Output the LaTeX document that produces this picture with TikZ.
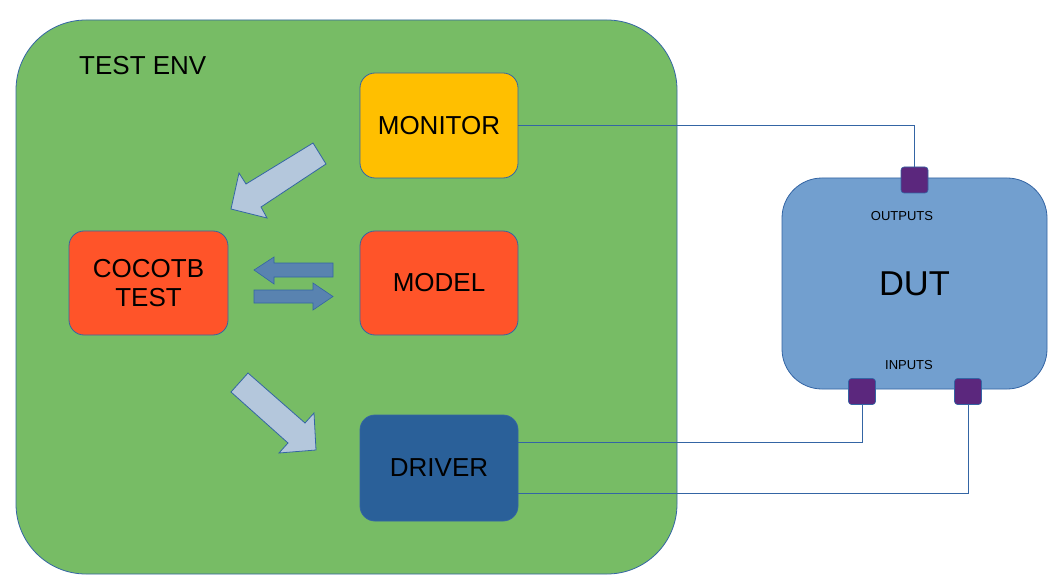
\documentclass[tikz,border=0pt]{standalone}
\usepackage{fontspec}
\setmainfont{Liberation Sans}
\begin{document}
\begin{tikzpicture}[x=1pt,y=-1pt,
  edge/.style={draw=linec, line width=0.9pt},
  blk/.style={draw=linec, line width=0.8pt, rounded corners=15pt, minimum width=158pt, minimum height=105pt, inner sep=0pt, align=center, font=\fontsize{26}{29}\selectfont},
  pin/.style={draw=linec, line width=0.6pt, fill=pinc, rounded corners=3pt, minimum width=27pt, minimum height=26pt, inner sep=0pt},
  bigarrow/.style={draw=linec, line width=0.8pt, fill=arrlight},
  smallarrow/.style={draw=linec, line width=0.6pt, fill=arrdark},
  lbl/.style={inner sep=0pt, font=\fontsize{13}{15}\selectfont}
]
\definecolor{envg}{HTML}{77BC65}
\definecolor{linec}{HTML}{3465A4}
\definecolor{yel}{HTML}{FFBF00}
\definecolor{redo}{HTML}{FF5429}
\definecolor{drv}{HTML}{2A6099}
\definecolor{dutc}{HTML}{729FCF}
\definecolor{pinc}{HTML}{5B277D}
\definecolor{arrlight}{HTML}{B4C7DC}
\definecolor{arrdark}{HTML}{5983B0}
\useasboundingbox (0,0) rectangle (1059,585);
\fill[white] (0,0) rectangle (1059,585);

% test environment
\node[draw=linec, line width=0.8pt, fill=envg, rounded corners=70pt, minimum width=661pt, minimum height=554pt, inner sep=0pt] (env) at (346.5,297) {};
\node[anchor=base west, inner sep=0pt, font=\fontsize{26}{29}\selectfont] (envlbl) at (79,74.5) {TEST ENV};

% blocks
\node[blk, fill=yel] (monitor) at (439,125.5) {MONITOR};
\node[blk, fill=redo, minimum width=159pt, minimum height=104pt] (cocotb) at (148.5,283) {COCOTB\\TEST};
\node[blk, fill=redo, minimum height=104pt] (model) at (439,283) {MODEL};
\node[blk, fill=drv, minimum height=106pt] (driver) at (439,468) {DRIVER};

% DUT
\node[draw=linec, line width=0.8pt, fill=dutc, rounded corners=40pt, minimum width=265pt, minimum height=211pt, inner sep=0pt, font=\fontsize{34.5}{40}\selectfont] (dut) at (914.5,283.5) {DUT};
\node[lbl] (outl) at (902,216.5) {OUTPUTS};
\node[lbl] (inl) at (909,365.5) {INPUTS};

% pins
\node[pin] (pout) at (914.5,180) {};
\node[pin] (pin1) at (862,391.5) {};
\node[pin] (pin2) at (968,391.5) {};

% connectors
\draw[edge] (monitor.east) -| (pout.north);
\draw[edge] ([yshift=26pt]driver.east) -| (pin1.south);
\draw[edge] ([yshift=-25pt]driver.east) -| (pin2.south);

% block arrows
\draw[bigarrow] (313,143) -- (326,164) -- (261,207) -- (267,218) -- (231,209) -- (239,173) -- (246,184) -- cycle;
\draw[bigarrow] (248,373) -- (305,423) -- (314,413) -- (316,450) -- (279,453) -- (288,443) -- (231,392) -- cycle;
\draw[smallarrow] (254,270) -- (274,257) -- (274,263) -- (333,263) -- (333,277) -- (274,277) -- (274,284) -- cycle;
\draw[smallarrow] (254,290) -- (313,290) -- (313,283) -- (333,296.5) -- (313,310) -- (313,303) -- (254,303) -- cycle;
\end{tikzpicture}
\end{document}
